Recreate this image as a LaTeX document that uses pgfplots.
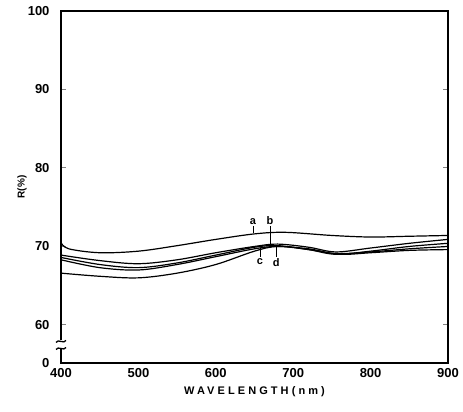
\documentclass[border=0pt]{standalone}
\usepackage{fontspec}
\setmainfont{Liberation Sans}
\usepackage{pgfplots}
\pgfplotsset{compat=1.18}

\begin{document}
\begin{tikzpicture}[curve/.style={black, line width=1.2pt, smooth, tension=0.55, mark=none}]
\begin{axis}[
    scale only axis,
    width=387pt, height=352pt,
    xmin=400, xmax=900,
    ymin=55.15, ymax=100,
    clip=false,
    axis line style={line width=1.1pt},
    xtick={400,500,...,900},
    ytick={55.15,60,70,80,90,100},
    yticklabels={0,60,70,80,90,100},
    tick align=inside,
    major tick length=5pt,
    xtick style={draw=none},
    ytick style={line width=1pt},
    tick label style={font=\bfseries\fontsize{13}{13}\selectfont},
    /pgf/number format/assume math mode=true,
    /pgf/number format/1000 sep={},
    yticklabel style={xshift=-8pt},
    xticklabel style={yshift=-2pt},
    xlabel={\addfontfeature{LetterSpace=28}\bfseries\fontsize{11}{11}\selectfont WAVELENGTH(nm)},
    ylabel={\bfseries\fontsize{10}{10}\selectfont R(\%)},
    xlabel style={yshift=-2pt},
    ylabel style={at={(rel axis cs:0,0.5)}, anchor=center, yshift=39pt},
]
% top curve
\addplot[curve] coordinates {(400,70.5)(410,69.7)(450,69.2)(500,69.4)(550,70.1)(600,70.9)(650,71.6)(690,71.8)(750,71.4)(800,71.2)(850,71.3)(900,71.4)};
% middle group
\addplot[curve] coordinates {(400,68.9)(450,68.2)(500,67.8)(550,68.3)(600,69.2)(650,70.0)(680,70.3)(720,69.9)(755,69.3)(800,69.8)(850,70.4)(900,70.9)};
\addplot[curve] coordinates {(400,68.6)(450,67.7)(500,67.3)(550,67.9)(600,68.9)(650,69.9)(680,70.1)(720,69.6)(755,69.0)(800,69.4)(850,70.0)(900,70.4)};
\addplot[curve] coordinates {(400,68.3)(450,67.3)(500,67.0)(550,67.7)(600,68.7)(650,69.7)(680,70.0)(720,69.7)(755,69.1)(800,69.3)(850,69.7)(900,70.0)};
% bottom curve
\addplot[curve] coordinates {(400,66.6)(450,66.2)(500,66.0)(550,66.6)(600,67.7)(650,69.4)(680,70.0)(720,69.6)(760,69.0)(800,69.2)(850,69.5)(900,69.6)};

% curve labels
\draw[line width=0.8pt] (axis cs:648,72.6) -- (axis cs:648,71.7);
\draw[line width=0.8pt] (axis cs:670,72.6) -- (axis cs:670,70.3);
\draw[line width=0.8pt] (axis cs:657,69.8) -- (axis cs:657,68.6);
\draw[line width=0.8pt] (axis cs:678,70.0) -- (axis cs:678,68.6);
\node[font=\bfseries\fontsize{11}{11}\selectfont, anchor=south, inner sep=1pt] at (axis cs:648,72.6) {a};
\node[font=\bfseries\fontsize{11}{11}\selectfont, anchor=south, inner sep=1pt] at (axis cs:670,72.6) {b};
\node[font=\bfseries\fontsize{11}{11}\selectfont, anchor=north, inner sep=1pt] at (axis cs:657,68.6) {c};
\node[font=\bfseries\fontsize{11}{11}\selectfont, anchor=north, inner sep=1pt] at (axis cs:678,68.6) {d};

% axis break mark
\fill[white] (axis cs:400,57.2) ++(-2pt,-1pt) rectangle ++(4pt,8pt);
\draw[line width=1.3pt] (axis cs:400,57.0) ++(-5pt,-1pt) .. controls +(2pt,4pt) and +(-2pt,-4pt) .. ++(10pt,2pt);
\draw[line width=1.3pt] (axis cs:400,57.9) ++(-5pt,-1pt) .. controls +(2pt,4pt) and +(-2pt,-4pt) .. ++(10pt,2pt);
\end{axis}
% page frame with the reference's margins
\path (current axis.south west) ++(-61pt,-48pt) rectangle ([shift={(15pt,11pt)}]current axis.north east);
\end{tikzpicture}
\end{document}
